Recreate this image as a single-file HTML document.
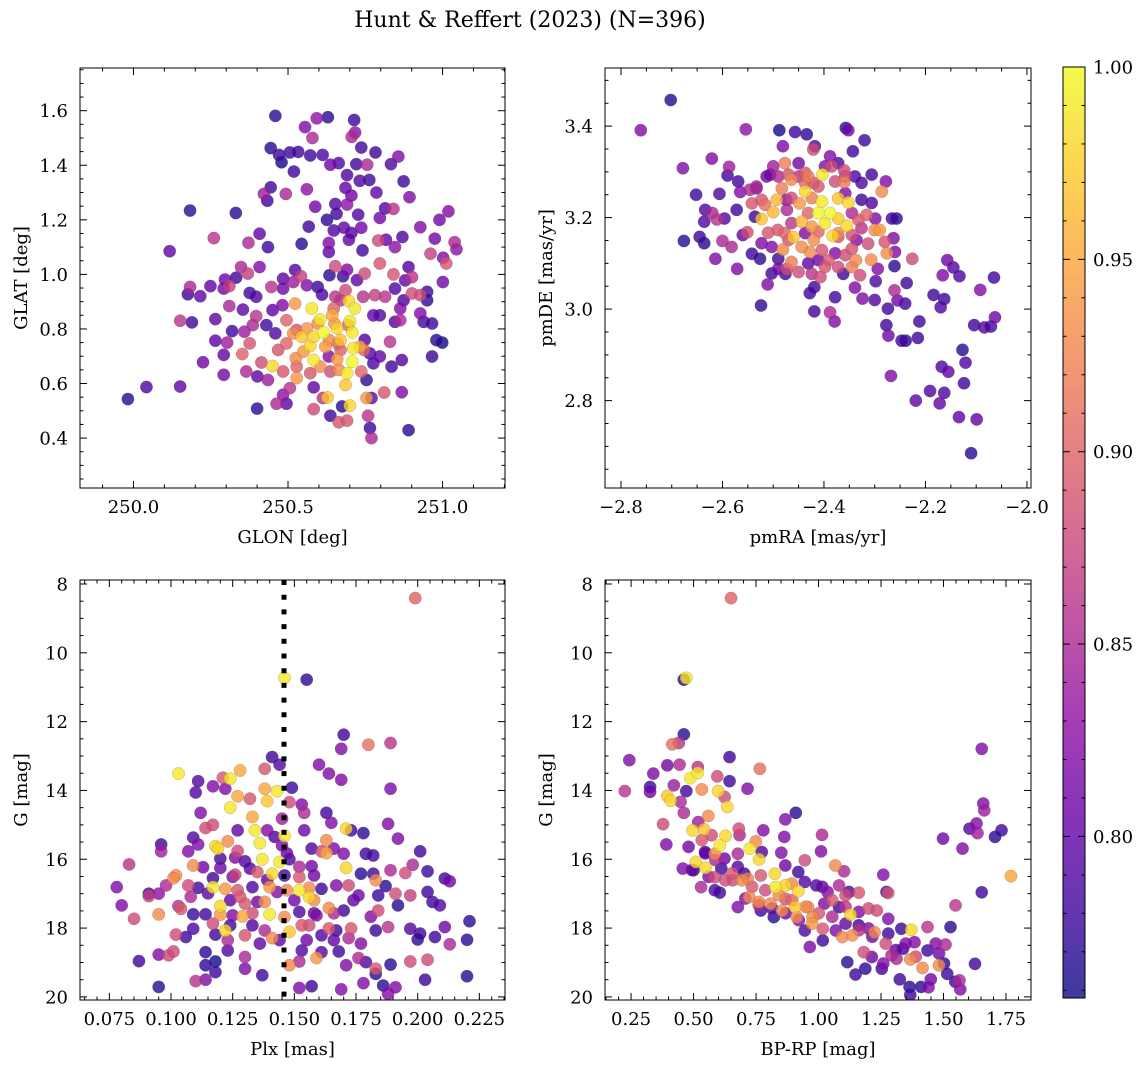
<!DOCTYPE html>
<html><head><meta charset="utf-8">
<style>
html,body{margin:0;padding:0;background:#fff;}
svg{display:block;font-family:"DejaVu Serif","Liberation Serif",serif;}
</style></head>
<body>
<svg id="fig" width="1148" height="1067" viewBox="0 0 1148 1067" xmlns="http://www.w3.org/2000/svg">
<text x="530" y="27" font-size="22" text-anchor="middle">Hunt &amp; Reffert (2023) (N=396)</text>
</svg>
<script>
// ---------- Panel 1: GLON vs GLAT ----------
const glonX=[250.459,250.593,250.629,250.714,250.555,250.579,250.706,250.717,250.444,250.471,250.479,250.506,250.533,250.572,250.612,250.637,250.664,250.721,250.756,250.737,250.783,250.833,250.857,250.519,250.691,250.732,250.763,250.874,250.444,250.422,250.433,250.493,250.561,250.686,250.705,250.786,250.893,250.183,250.331,250.588,250.653,250.691,250.727,250.814,250.841,250.797,251.019,250.99,250.626,250.657,250.567,250.648,250.681,250.705,250.737,250.928,250.408,250.26,250.117,250.372,250.435,250.544,250.632,250.697,250.741,250.792,250.817,250.846,250.87,250.975,251.039,251.045,250.961,251.012,251.002,250.632,250.653,250.691,250.748,250.797,250.89,250.841,250.901,251.001,250.348,250.408,250.37,250.332,250.523,250.542,250.484,250.634,250.678,250.723,250.296,250.31,250.249,250.183,250.176,250.216,250.292,250.376,250.397,250.446,250.484,250.517,250.561,250.596,250.61,250.653,250.686,250.743,250.781,250.814,250.846,250.874,250.901,250.928,250.95,250.95,250.879,250.151,250.189,250.265,250.31,250.354,250.397,250.45,250.482,250.523,250.577,250.604,250.643,250.697,250.716,250.7,250.659,250.615,250.708,250.561,250.544,250.517,250.495,250.43,250.459,250.386,250.319,250.359,250.265,250.303,250.376,250.352,250.292,250.225,250.292,250.365,250.401,250.435,250.414,250.45,250.468,250.495,250.525,250.484,250.528,250.572,250.583,250.621,250.659,250.67,250.711,250.708,250.732,250.748,250.765,250.776,250.797,250.835,250.868,250.83,250.863,250.928,250.939,250.966,250.98,250.999,250.966,250.776,250.797,250.846,250.863,250.691,250.686,250.737,250.754,250.637,250.664,250.583,250.628,250.613,250.7,250.675,250.754,250.77,250.811,250.868,250.506,250.484,250.463,250.495,250.583,250.637,250.664,250.691,250.759,250.765,250.77,250.89,250.4,249.982,250.042,250.151,
250.596,250.65,250.694,250.661,250.633,250.528,250.583,250.67,250.746,250.55,250.604,250.632,250.572,250.528,250.648,250.67];
const glatY=[1.581,1.572,1.576,1.566,1.540,1.500,1.504,1.52,1.463,1.438,1.411,1.447,1.449,1.436,1.438,1.402,1.408,1.404,1.402,1.465,1.447,1.404,1.432,1.377,1.364,1.343,1.346,1.341,1.319,1.295,1.27,1.295,1.312,1.317,1.289,1.30,1.283,1.234,1.225,1.248,1.258,1.256,1.219,1.242,1.24,1.207,1.231,1.20,1.20,1.222,1.175,1.161,1.171,1.152,1.171,1.173,1.149,1.133,1.085,1.116,1.10,1.112,1.115,1.127,1.088,1.124,1.127,1.10,1.137,1.131,1.118,1.092,1.076,1.04,1.061,1.082,1.03,1.017,1.003,1.04,1.027,1.0,0.99,0.972,1.027,1.027,1.003,0.988,1.016,0.993,0.984,0.997,0.993,0.979,0.981,0.957,0.957,0.954,0.927,0.92,0.948,0.932,0.918,0.954,0.948,0.972,0.96,0.954,0.926,0.918,0.942,0.918,0.924,0.918,0.948,0.905,0.93,0.924,0.936,0.905,0.978,0.83,0.824,0.836,0.884,0.871,0.847,0.869,0.887,0.893,0.875,0.835,0.851,0.902,0.875,0.829,0.802,0.787,0.787,0.802,0.771,0.784,0.832,0.814,0.784,0.814,0.792,0.79,0.757,0.75,0.747,0.708,0.705,0.678,0.632,0.644,0.626,0.613,0.677,0.664,0.723,0.747,0.693,0.644,0.62,0.738,0.686,0.735,0.689,0.723,0.729,0.68,0.735,0.76,0.71,0.674,0.699,0.662,0.686,0.753,0.832,0.857,0.826,0.82,0.759,0.75,0.699,0.85,0.85,0.826,0.875,0.638,0.595,0.644,0.613,0.644,0.65,0.586,0.549,0.547,0.519,0.516,0.547,0.547,0.567,0.568,0.583,0.559,0.526,0.526,0.506,0.482,0.458,0.464,0.482,0.437,0.4,0.429,0.508,0.543,0.587,0.589,
0.82,0.82,0.814,0.747,0.759,0.796,0.772,0.759,0.723,0.717,0.662,0.699,0.638,0.662,0.875,0.905];
const glatC=[.77,.83,.77,.78,.82,.85,.85,.83,.77,.78,.76,.78,.78,.78,.79,.81,.79,.78,.85,.78,.78,.79,.82,.78,.79,.79,.78,.78,.78,.84,.78,.85,.83,.80,.81,.80,.82,.77,.77,.81,.79,.83,.79,.79,.86,.81,.82,.81,.77,.78,.78,.79,.80,.79,.81,.82,.80,.86,.80,.85,.78,.77,.82,.80,.78,.88,.80,.83,.79,.81,.85,.83,.87,.89,.82,.80,.88,.82,.88,.89,.79,.89,.86,.81,.85,.82,.87,.78,.79,.87,.80,.77,.78,.80,.81,.87,.80,.85,.78,.80,.81,.78,.79,.86,.81,.84,.82,.78,.79,.86,.88,.86,.87,.86,.79,.79,.88,.88,.78,.77,.80,.86,.78,.80,.85,.80,.86,.80,.82,.94,.99,.99,.95,.98,.99,.99,.98,1.0,.99,.94,.97,.93,.90,.78,.79,.85,.78,.84,.80,.84,.89,.90,.80,.81,.81,.85,.80,.84,.88,.98,.89,.90,.93,.89,.94,.98,.99,.94,.94,.90,.99,1.0,.95,.79,.79,.79,.80,.78,.79,.86,.85,.82,.78,.78,.77,.76,.78,.80,.79,.79,.82,.99,.97,.90,.77,.88,.93,.80,.97,.86,.98,.77,.94,.80,.89,.82,.86,.83,.85,.80,.88,.78,.89,.89,.86,.78,.85,.77,.77,.77,.79,.80,
.93,.94,.90,.90,.93,.89,.98,.97,.90,.94,.93,.82,.89,.90,.90,.86];

// ---------- Panel 2: pmRA vs pmDE ----------
const pmraX=[-2.702,-2.761,-2.554,-2.488,-2.457,-2.434,-2.357,-2.352,-2.32,-2.481,-2.421,-2.418,-2.343,-2.621,-2.678,-2.587,-2.59,-2.569,-2.477,-2.45,-2.388,-2.372,-2.36,-2.5,-2.506,-2.49,-2.47,-2.431,-2.403,-2.378,-2.36,-2.339,-2.306,-2.278,-2.286,-2.326,-2.652,-2.606,-2.565,-2.546,-2.533,-2.483,-2.437,-2.411,-2.358,-2.634,-2.62,-2.611,-2.596,-2.636,-2.572,-2.542,-2.516,-2.493,-2.5,-2.523,-2.536,-2.473,-2.448,-2.444,-2.404,-2.411,-2.388,-2.398,-2.372,-2.352,-2.355,-2.372,-2.345,-2.326,-2.306,-2.316,-2.299,-2.266,-2.257,-2.326,-2.3,-2.29,-2.263,-2.28,-2.313,-2.276,-2.26,-2.226,-2.261,-2.307,-2.294,-2.345,-2.337,-2.358,-2.372,-2.383,-2.42,-2.404,-2.391,-2.428,-2.444,-2.46,-2.481,-2.491,-2.51,-2.551,-2.56,-2.6,-2.582,-2.645,-2.636,-2.676,-2.614,-2.542,-2.526,-2.49,-2.571,-2.503,-2.49,-2.473,-2.45,-2.424,-2.407,-2.362,-2.329,-2.476,-2.511,-2.419,-2.428,-2.378,-2.339,-2.324,-2.298,-2.3,-2.261,-2.255,-2.24,-2.237,-2.274,-2.524,-2.419,-2.388,-2.379,-2.277,-2.273,-2.247,-2.239,-2.215,-2.212,-2.184,-2.163,-2.17,-2.157,-2.145,-2.133,-2.166,-2.092,-2.065,-2.104,-2.084,-2.071,-2.063,-2.268,-2.127,-2.121,-2.168,-2.155,-2.124,-2.191,-2.163,-2.219,-2.172,-2.134,-2.099,-2.11,
-2.533,-2.513,-2.464,-2.437,-2.421,-2.424,-2.464,-2.474,-2.523,-2.431,-2.464,-2.424,-2.411,-2.372,-2.345,-2.332,-2.336,-2.437,-2.47,-2.503,-2.378,-2.411,-2.372,-2.345,-2.398,-2.431,-2.464,-2.523,-2.385,-2.398,-2.358,-2.437,-2.45,-2.477];
const pmdeY=[3.457,3.391,3.393,3.391,3.387,3.382,3.396,3.391,3.369,3.356,3.349,3.356,3.345,3.329,3.308,3.311,3.292,3.279,3.319,3.319,3.334,3.319,3.303,3.312,3.294,3.29,3.294,3.29,3.294,3.279,3.277,3.29,3.294,3.279,3.257,3.276,3.25,3.252,3.256,3.261,3.264,3.264,3.257,3.268,3.253,3.217,3.21,3.196,3.198,3.191,3.217,3.231,3.228,3.239,3.212,3.197,3.202,3.217,3.231,3.191,3.235,3.21,3.21,3.187,3.242,3.233,3.182,3.198,3.21,3.239,3.232,3.206,3.198,3.198,3.198,3.177,3.173,3.173,3.155,3.147,3.143,3.122,3.125,3.11,3.094,3.108,3.088,3.132,3.107,3.118,3.158,3.16,3.151,3.129,3.107,3.125,3.136,3.157,3.13,3.173,3.167,3.168,3.162,3.149,3.136,3.158,3.144,3.149,3.11,3.121,3.11,3.11,3.088,3.078,3.088,3.088,3.081,3.077,3.07,3.077,3.074,3.077,3.054,3.048,3.035,3.026,3.047,3.023,3.061,3.02,3.041,3.019,3.012,3.057,3.001,3.008,2.995,2.993,2.973,2.965,2.942,2.931,2.931,2.937,2.973,3.031,3.022,3.004,3.107,3.091,3.072,3.074,3.042,3.069,2.965,2.96,2.962,2.982,2.854,2.911,2.883,2.874,2.863,2.838,2.821,2.817,2.8,2.794,2.764,2.759,2.685,
3.268,3.29,3.283,3.276,3.276,3.243,3.243,3.239,3.239,3.21,3.188,3.18,3.169,3.166,3.162,3.195,3.151,3.166,3.151,3.136,3.122,3.107,3.092,3.092,3.092,3.1,3.103,3.144,3.312,3.312,3.29,3.298,3.29,3.166];
const pmC=[.77,.82,.83,.76,.78,.77,.77,.81,.78,.82,.88,.79,.78,.82,.82,.84,.78,.78,.92,.81,.82,.79,.88,.84,.79,.85,.89,.92,.99,.88,.92,.79,.78,.82,.93,.79,.78,.79,.82,.85,.82,.92,.98,.89,.82,.79,.85,.86,.79,.79,.78,.89,.91,.96,.96,.97,.78,.85,.94,.96,.99,1.0,1.0,.99,.97,.98,.98,.97,.85,.78,.79,.90,.82,.78,.77,.86,.93,.94,.82,.89,.88,.93,.82,.88,.77,.93,.82,.89,.93,.88,.89,.98,.93,.89,.89,.93,.93,.97,.93,.89,.89,.88,.80,.85,.85,.78,.77,.77,.82,.78,.77,.78,.82,.78,.81,.88,.88,.86,.88,.78,.88,.78,.82,.78,.78,.78,.82,.82,.79,.79,.85,.81,.78,.78,.78,.77,.78,.85,.82,.78,.81,.78,.77,.78,.78,.78,.78,.79,.81,.79,.79,.82,.82,.78,.78,.79,.78,.81,.82,.77,.79,.79,.80,.78,.79,.79,.80,.80,.80,.80,.77,
.85,.81,.93,.90,.89,.92,.88,.82,.89,.90,.86,.94,.90,.93,.88,.89,.82,.82,.89,.82,.82,.81,.88,.92,.89,.80,.92,.82,.88,.82,.88,.89,.86,.90];

// ---------- Panel 3: Plx vs G ----------
const plxX=[0.199,0.146,0.155,0.170,0.169,0.180,0.189,0.141,0.144,0.138,0.160,0.164,0.169,0.103,0.111,0.110,0.117,0.122,0.121,0.124,0.128,0.127,0.132,0.124,0.138,0.139,0.143,0.149,0.189,0.112,0.148,0.153,0.154,0.163,0.133,0.145,0.165,0.188,0.114,0.117,0.127,0.134,0.139,0.146,0.154,0.171,0.173,0.178,0.192,0.096,0.096,0.109,0.111,0.107,0.118,0.119,0.123,0.127,0.136,0.142,0.145,0.157,0.161,0.163,0.163,0.166,0.170,0.179,0.182,0.201,0.083,0.109,0.113,0.120,0.126,0.130,0.137,0.144,0.148,0.157,0.171,0.198,0.102,0.101,0.117,0.120,0.126,0.132,0.135,0.141,0.146,0.152,0.158,0.177,0.182,0.189,0.195,0.204,0.211,0.213,0.078,0.091,0.091,0.095,0.098,0.107,0.111,0.117,0.122,0.127,0.133,0.140,0.143,0.147,0.152,0.156,0.156,0.161,0.167,0.172,0.176,0.183,0.184,0.187,0.191,0.197,0.204,0.080,0.085,0.095,0.103,0.104,0.109,0.114,0.120,0.120,0.125,0.129,0.130,0.135,0.138,0.140,0.146,0.152,0.159,0.164,0.170,0.184,0.192,0.206,0.209,0.221,0.102,0.106,0.109,0.117,0.118,0.122,0.124,0.130,0.133,0.138,0.141,0.148,0.153,0.156,0.161,0.164,0.167,0.173,0.172,0.177,0.183,0.188,0.197,0.200,0.201,0.207,0.211,0.213,0.220,0.087,0.095,0.099,0.101,0.114,0.114,0.118,0.118,0.123,0.130,0.130,0.137,0.148,0.152,0.153,0.159,0.161,0.168,0.171,0.176,0.179,0.183,0.183,0.189,0.197,0.204,0.220,0.095,0.110,0.114,0.152,0.157,0.169,0.178,0.186,0.191,0.188,0.203,
0.124,0.133,0.150,0.158,0.166,0.139,0.125,0.152,0.158,0.144,0.155,0.136,0.123,0.166,0.174,0.181,0.115,0.108,0.128,0.147];
const plxG=[8.41,10.73,10.78,12.38,12.79,12.67,12.62,13.03,13.25,13.37,13.25,13.51,13.69,13.51,13.73,14.06,13.88,13.95,13.63,13.66,13.42,14.17,14.24,14.5,13.95,14.31,14.02,13.92,13.95,14.65,14.34,14.41,14.65,14.65,14.77,14.82,14.94,14.97,15.09,15.0,15.16,15.16,15.16,15.32,15.16,15.11,15.16,15.24,15.4,15.57,15.77,15.37,15.57,15.77,15.62,15.69,15.48,15.76,15.53,15.35,15.6,15.69,15.77,15.45,15.82,15.69,15.84,15.84,15.89,15.77,16.15,16.18,16.23,15.98,15.95,16.06,16.0,16.08,16.0,16.2,16.25,16.16,16.47,16.55,16.55,16.25,16.45,16.27,16.37,16.42,16.47,16.52,16.47,16.42,16.42,16.32,16.4,16.35,16.56,16.64,16.81,17.0,17.07,17.0,16.76,16.76,16.83,16.81,16.86,16.9,16.81,16.81,16.95,16.9,16.9,17.1,16.83,16.86,16.76,16.76,17.05,16.61,17.05,16.78,17.0,17.05,16.95,17.34,17.73,17.6,17.36,17.44,17.6,17.6,17.36,17.61,17.63,17.66,17.29,17.24,17.24,17.6,17.68,17.53,17.63,17.42,17.49,17.49,17.34,17.24,17.34,17.8,18.19,18.26,18.02,17.87,18.19,18.07,17.92,18.21,17.92,18.07,18.29,18.11,17.92,17.92,18.21,18.01,18.07,18.01,18.29,18.45,18.07,17.97,18.02,18.33,18.16,18.26,17.97,18.47,18.34,18.96,18.77,18.79,18.68,18.7,19.08,18.97,19.28,18.65,18.84,19.18,19.37,19.08,18.97,18.65,18.87,18.7,18.68,19.08,18.87,18.99,19.18,19.33,19.06,18.97,18.92,19.4,19.71,19.54,19.5,19.74,19.69,19.78,19.6,19.67,19.72,19.91,19.5,
17.19,17.57,17.19,17.57,17.57,16.6,16.51,16.22,17.19,18.35,18.35,18.45,18.35,18.35,17.19,17.67,16.99,17.09,17.09,15.83];
const plxC=[.90,.99,.77,.78,.82,.91,.86,.78,.79,.89,.82,.82,.82,.99,.79,.79,.82,.82,.89,.99,.95,.95,.89,.99,.95,.97,.99,.78,.82,.82,.88,.82,.85,.78,.95,.84,.82,.82,.88,.88,.80,.99,.82,.99,.81,.98,.78,.77,.82,.78,.84,.79,.82,.82,.98,.98,.93,.88,.99,.79,.82,.79,.88,.93,.95,.82,.82,.78,.78,.78,.86,.93,.81,.78,.82,.79,.99,.99,.79,.81,.98,.85,.93,.93,.78,.81,.87,.79,.89,.98,.78,.89,.81,.77,.78,.85,.88,.78,.78,.81,.82,.78,.87,.83,.85,.88,.78,.99,.94,.89,.79,.94,.82,.93,.99,.98,.93,.78,.82,.88,.81,.93,.78,.77,.88,.87,.78,.82,.88,.93,.86,.89,.78,.78,.98,.94,.82,.95,.89,.81,.93,.99,.93,.79,.82,.93,.78,.88,.77,.78,.79,.77,.88,.78,.79,.88,.78,.98,.78,.89,.79,.85,.93,.97,.89,.88,.79,.89,.78,.89,.85,.82,.78,.86,.79,.77,.78,.78,.81,.85,.77,.78,.82,.88,.88,.77,.77,.76,.78,.79,.85,.82,.78,.93,.85,.79,.94,.79,.78,.82,.85,.79,.89,.77,.77,.88,.88,.77,.77,.86,.82,.82,.78,.82,.82,.77,.82,.82,.78,
.80,.88,.81,.80,.85,.80,.82,.85,.93,.80,.81,.80,.85,.80,.80,.82,.80,.85,.89,.80];

// ---------- Panel 4: BP-RP vs G ----------
const bprpX=[0.65,0.461,0.471,0.461,0.415,0.441,0.644,0.243,0.339,0.395,0.444,0.517,0.487,0.517,0.595,0.644,0.765,0.225,0.326,0.326,0.421,0.471,0.533,0.598,0.624,0.716,0.395,0.408,0.448,0.635,0.461,0.378,0.391,0.909,0.867,0.559,0.519,0.496,0.542,0.572,0.681,0.628,0.605,0.684,0.779,0.863,1.014,0.749,0.725,0.773,0.851,1.010,0.509,0.546,0.585,0.624,0.677,0.762,0.945,0.457,0.5,0.548,0.611,0.677,0.703,0.867,0.919,1.067,1.102,1.259,1.770,0.53,0.585,0.605,0.657,0.716,0.769,0.825,0.828,0.867,0.919,0.893,0.945,0.991,1.036,1.082,1.122,1.161,1.279,1.272,1.653,1.653,1.659,1.663,1.632,1.604,1.636,1.706,1.732,1.498,1.576,1.548,0.585,0.677,0.723,0.762,0.769,0.808,0.821,0.854,0.867,0.906,0.913,0.958,0.976,0.945,0.965,1.017,1.017,1.023,1.082,1.108,1.069,1.095,1.128,1.135,1.161,1.2,1.233,1.161,1.2,1.224,1.279,1.279,1.331,1.371,1.436,1.528,1.115,1.148,1.181,1.213,1.259,1.312,1.338,1.367,1.384,1.416,1.436,1.469,1.508,1.482,1.482,1.502,1.515,1.564,1.567,1.547,1.626,1.325,1.364,1.367,1.41,1.44,1.449,1.292,1.253,1.187,
0.654,0.694,0.734,0.787,0.841,0.894,0.948,1.001,0.974,0.921,0.868,0.814,0.761,0.707,1.055,1.108,1.162,1.215,1.269,1.309,1.349,1.389,0.547,0.587,0.627,0.56,0.493,0.533,0.48,1.015,1.055,1.108];
const bprpG=[8.41,10.78,10.73,12.37,12.66,12.62,13.03,13.12,13.51,13.27,13.25,13.32,13.64,13.49,13.59,13.73,13.37,14.02,14.04,13.9,13.85,14.02,13.97,14.02,14.19,13.95,14.16,14.3,14.33,14.48,14.65,14.98,15.57,14.65,14.84,14.74,14.92,15.16,15.13,15.3,15.11,15.32,15.6,15.3,15.16,15.35,15.29,15.48,15.69,15.79,15.81,15.77,16.08,15.79,15.84,15.98,15.84,16.0,16.03,16.27,16.32,16.25,16.27,16.22,16.42,16.18,16.37,16.18,16.35,16.45,16.49,16.81,16.52,16.97,16.61,16.56,16.47,16.42,16.81,16.76,16.93,16.71,16.66,16.76,16.95,16.76,16.95,16.97,16.98,16.95,16.96,12.79,14.38,14.58,14.96,15.11,15.24,15.35,15.16,15.4,15.69,17.34,16.9,17.39,17.1,17.24,17.49,17.29,17.68,17.49,17.15,17.39,17.68,17.39,17.68,18.07,18.55,18.02,18.36,17.29,17.39,17.05,18.07,18.26,17.61,18.21,17.53,17.43,17.49,17.92,18.01,18.12,17.73,18.16,18.02,18.05,17.97,17.97,18.99,19.35,18.7,18.84,19.03,18.89,18.6,18.91,18.41,19.16,18.65,18.45,18.48,18.74,19.08,19.03,19.33,19.52,19.78,19.56,19.04,19.49,19.71,19.94,19.71,19.72,19.49,18.79,19.18,19.18,
16.41,16.61,16.8,16.9,17.04,17.19,17.38,17.57,17.87,17.77,17.57,17.43,17.33,17.14,17.67,17.87,18.06,18.25,18.45,18.64,18.45,18.83,15.83,16.02,16.61,16.51,16.31,15.44,15.64,16.8,17.19,17.38];
const bprpC=[.90,.77,.99,.77,.91,.86,.78,.82,.82,.81,.85,.86,.99,.99,.88,.78,.91,.86,.81,.78,.84,.78,.93,.98,.88,.82,.97,.98,.85,.98,.85,.88,.82,.77,.82,.93,.84,.98,.97,.88,.88,.98,.99,.85,.82,.82,.85,.93,.99,.79,.82,.82,.98,.78,.93,.81,.85,.98,.88,.82,.78,.98,.78,.79,.78,.81,.78,.93,.85,.82,.95,.85,.88,.78,.88,.92,.89,.98,.99,.98,.98,.93,.79,.79,.82,.85,.79,.89,.89,.78,.78,.82,.82,.84,.82,.79,.84,.77,.78,.81,.82,.86,.79,.82,.93,.93,.78,.93,.77,.93,.89,.97,.93,.93,.93,.79,.82,.89,.78,.82,.78,.88,.82,.93,.98,.93,.82,.88,.88,.78,.82,.93,.82,.78,.78,.98,.86,.77,.77,.78,.88,.81,.82,.85,.78,.93,.82,.93,.78,.82,.85,.81,.93,.77,.78,.85,.82,.78,.78,.78,.77,.78,.77,.82,.81,.85,.78,.77,
.89,.93,.89,.88,.93,.90,.93,.89,.94,.82,.81,.80,.85,.82,.85,.80,.86,.81,.88,.80,.82,.88,.80,.85,.88,.82,.80,.89,.81,.80,.89,.86];

// ---------- Colorbar & reference line ----------
const cbarTicks=[0.80,0.85,0.90,0.95,1.00];
const cbarRange=[0.758,1.0];
const plxCut=[0.1458];

const NS='http://www.w3.org/2000/svg';
const svg=document.getElementById('fig');
function mk(tag,attrs,parent){const e=document.createElementNS(NS,tag);for(const k in attrs)e.setAttribute(k,attrs[k]);(parent||svg).appendChild(e);return e;}

const plasma=[[13,8,135],[65,4,157],[106,0,168],[143,13,164],[177,42,144],[204,71,120],[225,100,98],[242,132,75],[252,166,54],[252,206,37],[240,249,33]];
function cmap(v){let t=(v-cbarRange[0])/(cbarRange[1]-cbarRange[0]);t=Math.max(0,Math.min(1,t));const s=t*10,i=Math.min(9,Math.floor(s)),f=s-i;const a=plasma[i],b=plasma[i+1];return 'rgb('+a.map((c,k)=>Math.round(c+(b[k]-c)*f)).join(',')+')';}
function fmt(v,d){return (v<0?'\u2212':'')+Math.abs(v).toFixed(d);}
const FS=18;

function panel(cfg,xs,ys,cs){
  const g=mk('g',{});
  
  
  const sx=v=>cfg.L+(v-cfg.xmin)/(cfg.xmax-cfg.xmin)*(cfg.R-cfg.L);
  const sy=cfg.inv?(v=>cfg.T+(v-cfg.ymin)/(cfg.ymax-cfg.ymin)*(cfg.B-cfg.T)):(v=>cfg.B-(v-cfg.ymin)/(cfg.ymax-cfg.ymin)*(cfg.B-cfg.T));
  const cid='clip-'+cfg.name;
  const cp=mk('clipPath',{id:cid},g);mk('rect',{x:cfg.L,y:cfg.T,width:cfg.R-cfg.L,height:cfg.B-cfg.T},cp);
  const pts=mk('g',{'clip-path':'url(#'+cid+')'},g);
  
  
  const idx=xs.map((_,i)=>i).sort((a,b)=>cs[a]-cs[b]);
  idx.forEach(i=>{
    const c=mk('circle',{cx:sx(xs[i]),cy:sy(ys[i]),r:6.2,fill:cmap(cs[i]),'fill-opacity':0.8,stroke:'#555','stroke-opacity':0.5,'stroke-width':0.4},pts);
    
    
  });
  if(cfg.vline){
    const l=mk('line',{x1:sx(cfg.vline),x2:sx(cfg.vline),y1:cfg.T,y2:cfg.B,stroke:'#000','stroke-width':5,'stroke-dasharray':'5 9.7'},pts);
    
    
  }
  const ax=mk('g',{stroke:'#000','stroke-width':1},g);
  mk('rect',{x:cfg.L,y:cfg.T,width:cfg.R-cfg.L,height:cfg.B-cfg.T,fill:'none'},ax);
  const eps=1e-9;
  for(let v=Math.ceil(cfg.xmin/cfg.xminor-eps)*cfg.xminor;v<=cfg.xmax+eps;v+=cfg.xminor){
    const isMaj=Math.abs(v/cfg.xmajor-Math.round(v/cfg.xmajor))<1e-6;const len=isMaj?7:3.5;const x=sx(v);
    mk('line',{x1:x,x2:x,y1:cfg.B,y2:cfg.B-len},ax);mk('line',{x1:x,x2:x,y1:cfg.T,y2:cfg.T+len},ax);
    if(isMaj){const t=mk('text',{x:x,y:cfg.B+25,'font-size':FS,'text-anchor':'middle',stroke:'none',fill:'#000'},g);t.textContent=fmt(Math.round(v/cfg.xmajor)*cfg.xmajor,cfg.xd);
      }
  }
  for(let v=Math.ceil(cfg.ymin/cfg.yminor-eps)*cfg.yminor;v<=cfg.ymax+eps;v+=cfg.yminor){
    const isMaj=Math.abs(v/cfg.ymajor-Math.round(v/cfg.ymajor))<1e-6;const len=isMaj?7:3.5;const y=sy(v);
    mk('line',{y1:y,y2:y,x1:cfg.L,x2:cfg.L+len},ax);mk('line',{y1:y,y2:y,x1:cfg.R,x2:cfg.R-len},ax);
    if(isMaj){const t=mk('text',{x:cfg.L-12,y:y+6.5,'font-size':FS,'text-anchor':'end',stroke:'none',fill:'#000'},g);t.textContent=fmt(Math.round(v/cfg.ymajor)*cfg.ymajor,cfg.yd);
      }
  }
  const xl=mk('text',{x:(cfg.L+cfg.R)/2,y:cfg.B+55,'font-size':FS,'text-anchor':'middle'},g);xl.textContent=cfg.xlabel;
  
  const yx=cfg.ylx,ycy=(cfg.T+cfg.B)/2;
  const yl=mk('text',{x:yx,y:ycy,'font-size':FS,'text-anchor':'middle',transform:'rotate(-90 '+yx+' '+ycy+')'},g);yl.textContent=cfg.ylabel;
  
}

panel({name:'glon-glat-panel',L:80,R:505,T:68,B:488,xmin:249.827,xmax:251.202,ymin:0.217,ymax:1.7565,xmajor:0.5,xminor:0.1,ymajor:0.2,yminor:0.05,xd:1,yd:1,xlabel:'GLON [deg]',ylabel:'GLAT [deg]',ylx:27},glonX,glatY,glatC);
panel({name:'pm-panel',L:605,R:1031,T:68,B:488,xmin:-2.8315,xmax:-1.992,ymin:2.609,ymax:3.527,xmajor:0.2,xminor:0.05,ymajor:0.2,yminor:0.05,xd:1,yd:1,xlabel:'pmRA [mas/yr]',ylabel:'pmDE [mas/yr]',ylx:552},pmraX,pmdeY,pmC);
panel({name:'plx-g-panel',L:80,R:505,T:580,B:1000,xmin:0.0631,xmax:0.2354,ymin:7.884,ymax:20.09,inv:true,xmajor:0.025,xminor:0.005,ymajor:2,yminor:0.5,xd:3,yd:0,xlabel:'Plx [mas]',ylabel:'G [mag]',ylx:27,vline:plxCut[0]},plxX,plxG,plxC);
panel({name:'cmd-panel',L:605,R:1031,T:580,B:1000,xmin:0.1457,xmax:1.850,ymin:7.884,ymax:20.09,inv:true,xmajor:0.25,xminor:0.05,ymajor:2,yminor:0.5,xd:2,yd:0,xlabel:'BP-RP [mag]',ylabel:'G [mag]',ylx:552},bprpX,bprpG,bprpC);

// colorbar
(function(){
  const L=1063,R=1085,T=67,B=998;
  const g=mk('g',{});
  
  
  const defs=mk('defs',{},g);
  const lg=mk('linearGradient',{id:'cbgrad',x1:0,y1:1,x2:0,y2:0},defs);
  for(let i=0;i<=20;i++){const v=cbarRange[0]+(cbarRange[1]-cbarRange[0])*i/20;mk('stop',{offset:(i/20),'stop-color':cmap(v),'stop-opacity':0.8},lg);}
  mk('rect',{x:L,y:T,width:R-L,height:B-T,fill:'url(#cbgrad)',stroke:'#000','stroke-width':1},g);
  const sy=v=>B-(v-cbarRange[0])/(cbarRange[1]-cbarRange[0])*(B-T);
  for(let k=76;k<=100;k++){const v=k/100;const maj=(k%5===0);const y=sy(v);
    mk('line',{x1:R,x2:R-(maj?7:3.5),y1:y,y2:y,stroke:'#000','stroke-width':1},g);
    mk('line',{x1:L,x2:L+(maj?7:3.5),y1:y,y2:y,stroke:'#000','stroke-width':1},g);}
  cbarTicks.forEach(v=>{const t=mk('text',{x:R+8,y:sy(v)+6.5,'font-size':FS},g);t.textContent=v.toFixed(2);
    });
})();
</script>
</body></html>
